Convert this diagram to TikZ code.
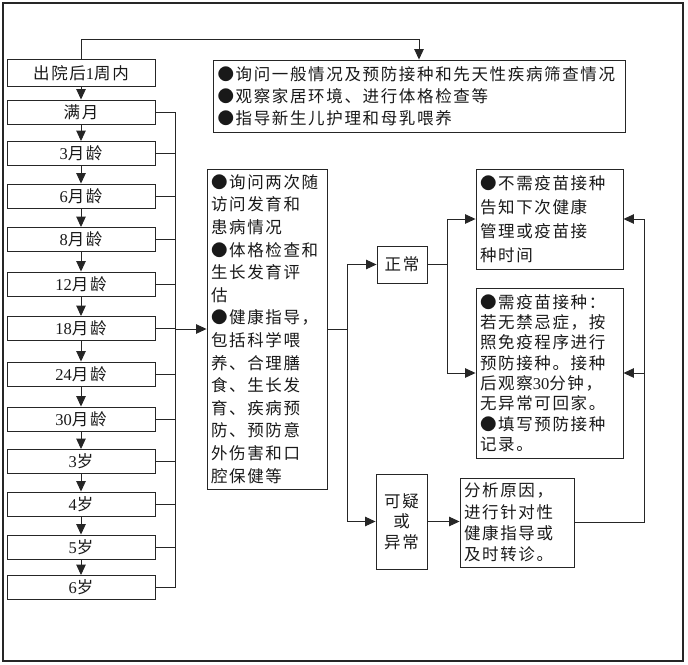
\documentclass[tikz,border=0pt]{standalone}
\usepackage{fontspec}
\setmainfont{Noto Sans CJK SC}[LetterSpace=10]
\newfontfamily\dg{Liberation Serif}
\usetikzlibrary{arrows.meta}
\tikzset{
  box/.style={draw=black!85, line width=0.9pt, rectangle, inner sep=0pt, text=black!90},
  agebox/.style={box, minimum width=148pt, minimum height=24pt, font=\fontsize{16.5}{20}\selectfont},
  txtbox/.style={box, inner xsep=4pt, align=left},
  conn/.style={draw=black!85, line width=0.9pt},
  arr/.style={conn, -{Triangle[length=10.5pt,width=9.5pt]}},
}
\begin{document}
\begin{tikzpicture}[x=1pt,y=-1pt]
\useasboundingbox (0,0) rectangle (688,664);
\draw[line width=1.2pt, black!85] (3,3) rectangle (683,661);

% left column
\node[agebox, minimum height=27pt] (a0) at (81,73) {出院后{\dg 1}周内};
\node[agebox] (a1) at (81,112) {满月};
\node[agebox] (a2) at (81,153.5) {{\dg 3}月龄};
\node[agebox] (a3) at (81,196) {{\dg 6}月龄};
\node[agebox] (a4) at (81,239.5) {{\dg 8}月龄};
\node[agebox] (a5) at (81,284) {{\dg 12}月龄};
\node[agebox] (a6) at (81,328.5) {{\dg 18}月龄};
\node[agebox] (a7) at (81,374) {{\dg 24}月龄};
\node[agebox] (a8) at (81,419) {{\dg 30}月龄};
\node[agebox] (a9) at (81,461.5) {{\dg 3}岁};
\node[agebox] (a10) at (81,504) {{\dg 4}岁};
\node[agebox] (a11) at (81,547) {{\dg 5}岁};
\node[agebox] (a12) at (81,587.5) {{\dg 6}岁};

% top info box
\node[txtbox, minimum width=412pt, minimum height=72pt, text width=403pt,
      font=\fontsize{16.5}{22}\selectfont] (top) at (419,96)
 {●询问一般情况及预防接种和先天性疾病筛查情况\\●观察家居环境、进行体格检查等\\●指导新生儿护理和母乳喂养};

% middle box
\node[txtbox, minimum width=120pt, minimum height=320pt, text width=112pt,
      font=\fontsize{16.5}{22.6}\selectfont] (mid) at (267,329)
 {●询问两次随\\访问发育和\\患病情况\\●体格检查和\\生长发育评\\估\\●健康指导，\\包括科学喂\\养、合理膳\\食、生长发\\育、疾病预\\防、预防意\\外伤害和口\\腔保健等};

% normal / abnormal
\node[box, minimum width=50pt, minimum height=37pt, font=\fontsize{16.5}{20}\selectfont] (zc) at (402,264.5) {正常};
\node[box, minimum width=51pt, minimum height=95pt, align=center,
      font=\fontsize{16.5}{20.5}\selectfont] (ky) at (401.5,521.5) {可疑\\或\\异常};

% right boxes
\node[txtbox, minimum width=147pt, minimum height=100pt, text width=139pt,
      font=\fontsize{16.5}{24}\selectfont] (r1) at (549.5,219)
 {●不需疫苗接种\\告知下次健康\\管理或疫苗接\\种时间};
\node[txtbox, minimum width=147pt, minimum height=170pt, text width=139pt,
      font=\fontsize{16.5}{20.3}\selectfont] (r2) at (549.5,373)
 {●需疫苗接种：\\若无禁忌症，按\\照免疫程序进行\\预防接种。接种\\后观察{\dg 30}分钟，\\无异常可回家。\\●填写预防接种\\记录。};
\node[txtbox, minimum width=114pt, minimum height=89pt, text width=106pt,
      font=\fontsize{16.5}{21.3}\selectfont] (fx) at (517,522.5)
 {分析原因，\\进行针对性\\健康指导或\\及时转诊。};

% connectors
\draw[arr] (a0.north) -- ++(0,-19.5) -| (top.north);
\foreach \i/\j in {0/1,1/2,2/3,3/4,4/5,5/6,6/7,7/8,8/9,9/10,10/11,11/12}
  \draw[arr] (a\i.south) -- (a\j.north);
\coordinate (busx) at (175,0);
\foreach \i in {1,...,12}
  \draw[conn] (a\i.east) -- (a\i.east -| busx);
\draw[conn] (a1.east -| busx) -- (a12.east -| busx);
\draw[arr] (mid.west -| busx) -- (mid.west);

\coordinate (jx) at (347,0);
\draw[conn] (mid.east) -- (mid.east -| jx);
\draw[arr] (mid.east -| jx) |- (zc.west);
\draw[arr] (mid.east -| jx) |- (ky.west);

\coordinate (kx) at (447,0);
\draw[conn] (zc.east) -- (zc.east -| kx);
\draw[arr] (zc.east -| kx) |- (r1.west);
\draw[arr] (zc.east -| kx) |- (r2.west);

\draw[arr] (ky.east) -- (ky.east -| fx.west);

\coordinate (rx) at (644,0);
\draw[arr] (fx.east) -| (rx |- r1.east) -- (r1.east);
\draw[arr] (rx |- r2.east) -- (r2.east);
\end{tikzpicture}
\end{document}
